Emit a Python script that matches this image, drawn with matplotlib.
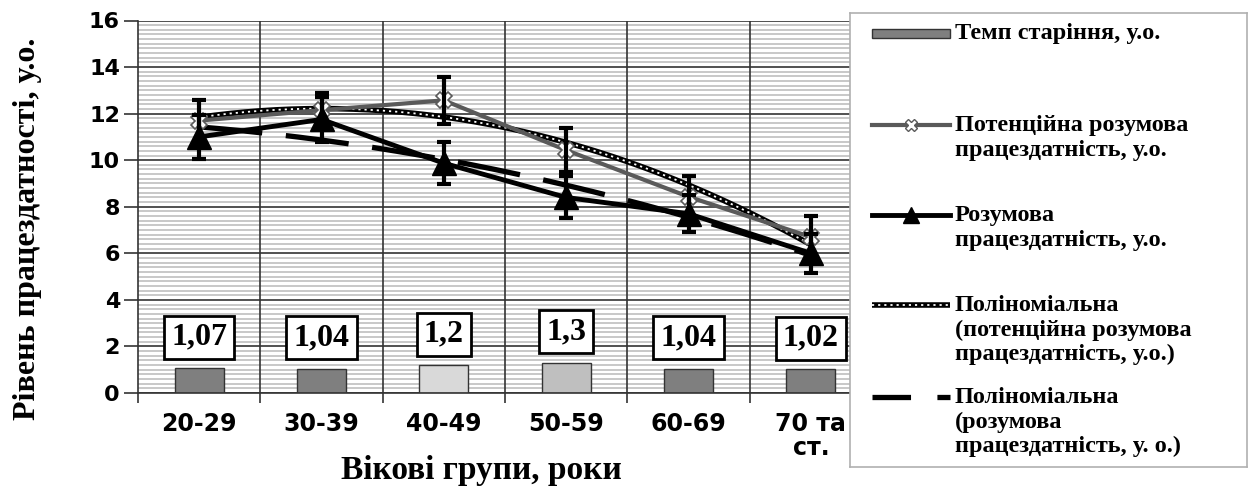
import numpy as np
import matplotlib
matplotlib.use("Agg")
import matplotlib.pyplot as plt
from matplotlib.patches import Rectangle
from matplotlib.ticker import MultipleLocator, FixedLocator

# data
age_groups = ["20-29", "30-39", "40-49", "50-59", "60-69", "70 та\nст."]
aging_rate = [1.07, 1.04, 1.2, 1.3, 1.04, 1.02]
aging_labels = ["1,07", "1,04", "1,2", "1,3", "1,04", "1,02"]
potential = [11.7, 12.15, 12.57, 10.43, 8.43, 6.7]
potential_err = [0.9, 0.75, 1.0, 0.95, 0.9, 0.9]
mental = [11.0, 11.75, 9.87, 8.4, 7.7, 6.0]
mental_err = [0.95, 0.95, 0.9, 0.9, 0.8, 0.85]

legend_labels = [
    "Темп старіння, у.о.",
    "Потенційна розумова\nпрацездатність, у.о.",
    "Розумова\nпрацездатність, у.о.",
    "Поліноміальна\n(потенційна розумова\nпрацездатність, у.о.)",
    "Поліноміальна\n(розумова\nпрацездатність, у. о.)",
]

bar_colors = ["#7f7f7f", "#7f7f7f", "#d9d9d9", "#bfbfbf", "#7f7f7f", "#7f7f7f"]
SERIF = "Liberation Serif"
SANS = "DejaVu Sans"

W, H = 1258, 488
fig = plt.figure(figsize=(W / 100, H / 100), dpi=100)
ax = fig.add_axes([138 / W, 95 / H, 734 / W, 372.5 / H])

x = np.arange(len(age_groups))

# bars + boxed labels
ax.bar(x, aging_rate, width=0.4, color=bar_colors, edgecolor="#333333", linewidth=1.0, zorder=2)
for xi, v, lab in zip(x, aging_rate, aging_labels):
    ax.text(xi, v + 1.33, lab, ha="center", va="center", fontsize=23, fontweight="bold",
            family=SERIF, zorder=6,
            bbox=dict(boxstyle="square,pad=0.22", fc="white", ec="black", lw=2))

# polynomial trends (order 2, like the excel trendline)
xs = np.linspace(0, 5, 200)
pot_trend = np.polyval(np.polyfit(x, potential, 2), xs)
men_trend = np.polyval(np.polyfit(x, mental, 2), xs)
ax.plot(xs, pot_trend, color="black", lw=4, zorder=3, solid_capstyle="butt")
ax.plot(xs, pot_trend, color="white", lw=1.3, ls=(0, (1.2, 2.2)), zorder=3)
ax.plot(xs, men_trend, color="black", lw=3.8, ls=(0, (12, 4.5)), zorder=3)

# series
ax.plot(x, potential, color="#5a5a5a", lw=3, marker="X", ms=11, mfc="white",
        mec="#5a5a5a", mew=1.2, zorder=4)
ax.plot(x, mental, color="black", lw=3.5, marker="^", ms=17, zorder=4)
ax.errorbar(x, potential, yerr=potential_err, fmt="none", ecolor="black",
            elinewidth=3, capsize=5, capthick=3, zorder=5)
ax.errorbar(x, mental, yerr=mental_err, fmt="none", ecolor="black",
            elinewidth=3, capsize=5, capthick=3, zorder=5)

# axes / grid
ax.set_xlim(-0.5, 5.5)
ax.set_ylim(0, 16)
ax.yaxis.set_major_locator(MultipleLocator(2))
ax.yaxis.set_minor_locator(MultipleLocator(0.2))
ax.set_xticks(x)
ax.set_xticklabels(age_groups, fontsize=17, fontweight="bold", family=SANS, linespacing=1.0)
ax.xaxis.set_minor_locator(FixedLocator(np.arange(-0.5, 6, 1)))
ax.tick_params(axis="x", which="major", length=0, pad=14)
ax.tick_params(axis="x", which="minor", length=7, width=1.2, color="#333333")
ax.tick_params(axis="y", which="major", length=10, width=1.2, color="#333333", pad=3)
ax.tick_params(axis="y", which="minor", length=0)
for t in ax.get_yticklabels():
    t.set_fontsize(16)
    t.set_fontweight("bold")
    t.set_family(SANS)

ax.set_axisbelow(True)
ax.grid(which="minor", axis="y", color="#c8c8c8", lw=1.4)
ax.grid(which="major", axis="y", color="#333333", lw=1.2)
for b in np.arange(0.5, 5.5, 1):
    ax.axvline(b, color="#333333", lw=1.2, zorder=1)
for s in ["top", "right"]:
    ax.spines[s].set_visible(False)
ax.spines["left"].set_color("#333333")
ax.spines["bottom"].set_color("#333333")
ax.spines["left"].set_linewidth(1.2)
ax.spines["bottom"].set_linewidth(1.2)

fig.text(481 / W, 1 - 470 / H, "Вікові групи, роки", ha="center", va="center",
         fontsize=24, fontweight="bold", family=SERIF)
fig.text(28 / W, 1 - 229 / H, "Рівень працездатності, у.о.", ha="center", va="center",
         rotation=90, fontsize=23, fontweight="bold", family=SERIF)

# legend box drawn in its own pixel-unit axes (excel style, handles on first line)
lw_, lh_ = 397, 454
lax = fig.add_axes([850 / W, (H - 13 - lh_) / H, lw_ / W, lh_ / H])
lax.set_xlim(0, lw_)
lax.set_ylim(lh_, 0)
lax.set_xticks([])
lax.set_yticks([])
lax.set_facecolor("white")
for s in lax.spines.values():
    s.set_color("#b0b0b0")
    s.set_linewidth(1.2)

entry_y = [20, 112, 202, 292, 384]
hx0, hx1 = 22, 100
lax.add_patch(Rectangle((hx0, entry_y[0] - 4.5), hx1 - hx0, 9, fc="#7f7f7f", ec="#333333", lw=1))
hx = np.array([hx0, hx1])
lax.plot(hx, [entry_y[1]] * 2, color="#5a5a5a", lw=3)
lax.plot([(hx0 + hx1) / 2], [entry_y[1]], marker="X", ms=9, mfc="white", mec="#5a5a5a", mew=1)
lax.plot(hx, [entry_y[2]] * 2, color="black", lw=3.5)
lax.plot([(hx0 + hx1) / 2], [entry_y[2]], marker="^", ms=11, color="black")
lax.plot(hx, [entry_y[3]] * 2, color="black", lw=4, solid_capstyle="butt")
lax.plot(hx, [entry_y[3]] * 2, color="white", lw=1.3, ls=(0, (1.2, 2.2)))
lax.plot(hx, [entry_y[4]] * 2, color="black", lw=3.8, ls=(0, (7.3, 5.0)))
for yy, lab in zip(entry_y, legend_labels):
    lax.text(105, yy - 10, lab, ha="left", va="top", fontsize=17.5, fontweight="bold",
             family=SERIF, linespacing=1.22)

fig.savefig("out.png", dpi=100, facecolor="white")
